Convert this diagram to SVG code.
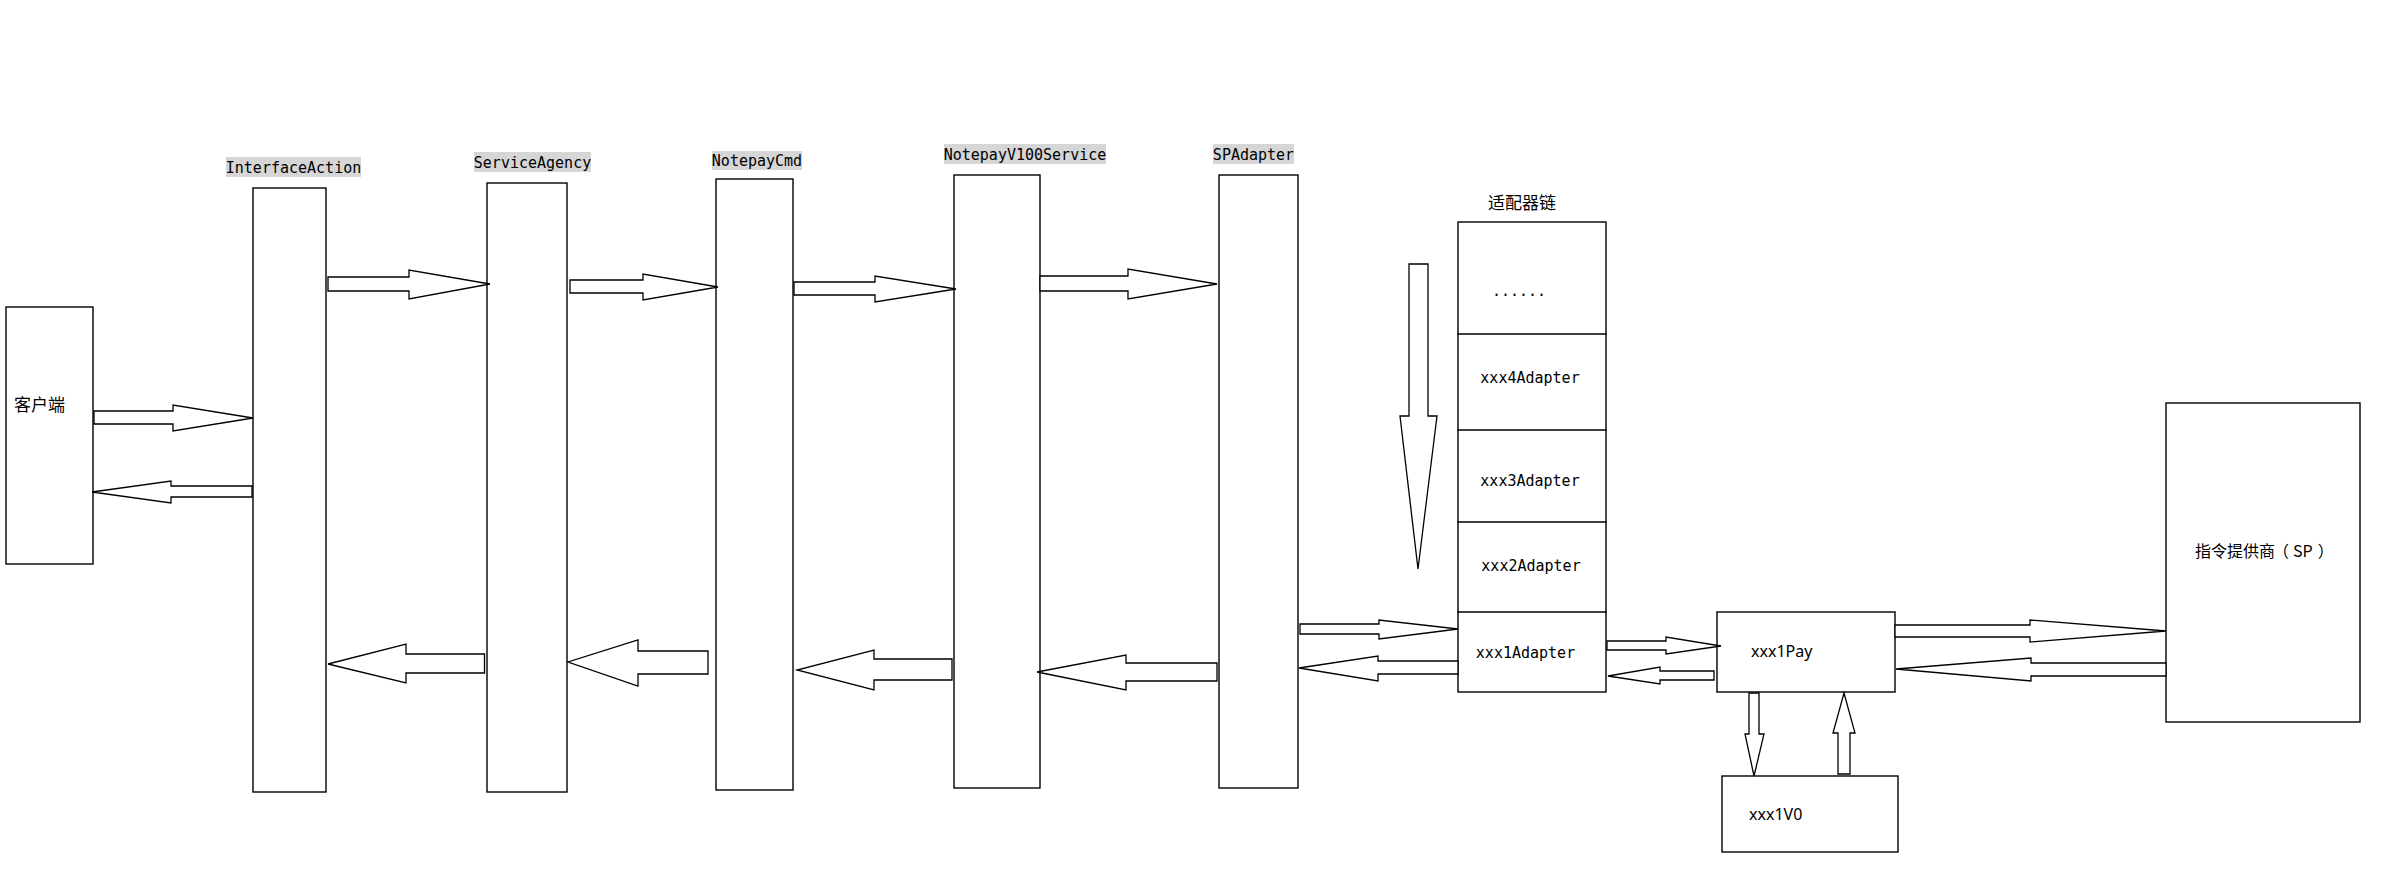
<svg xmlns="http://www.w3.org/2000/svg" width="2392" height="888" viewBox="0 0 2392 888">
<style>
.box{fill:#fff;stroke:#000;stroke-width:1.4}
.div{stroke:#000;stroke-width:1.4;fill:none}
.arr{fill:#fff;stroke:#000;stroke-width:1.3;stroke-linejoin:miter}
.mono{font-family:"DejaVu Sans Mono","Liberation Mono",monospace;font-size:15px;fill:#000}
.sans{font-family:"Noto Sans","Noto Sans CJK SC",sans-serif;font-size:16px;fill:#000}
.cjk{font-family:"Noto Sans CJK SC","Noto Sans",sans-serif;font-size:17px;fill:#000}
.lblbg{fill:#d6d6d6}
</style>
<rect width="2392" height="888" fill="#fff"/>

<g id="client">
<rect class="box" x="6" y="307" width="87" height="257"/>
<text class="cjk" x="14" y="411">客户端</text>
</g>

<g id="interfaceAction">
<rect class="lblbg" x="226" y="157" width="135" height="20"/>
<text class="mono" x="293.5" y="173" text-anchor="middle">InterfaceAction</text>
<rect class="box" x="253" y="188" width="73" height="604"/>
</g>

<g id="serviceAgency">
<rect class="lblbg" x="474" y="152" width="117" height="20"/>
<text class="mono" x="532.5" y="168" text-anchor="middle">ServiceAgency</text>
<rect class="box" x="487" y="183" width="80" height="609"/>
</g>

<g id="notepayCmd">
<rect class="lblbg" x="712" y="151" width="90" height="19"/>
<text class="mono" x="757" y="166" text-anchor="middle">NotepayCmd</text>
<rect class="box" x="716" y="179" width="77" height="611"/>
</g>

<g id="notepayV100Service">
<rect class="lblbg" x="944" y="144" width="162" height="20"/>
<text class="mono" x="1025" y="160" text-anchor="middle">NotepayV100Service</text>
<rect class="box" x="954" y="175" width="86" height="613"/>
</g>

<g id="spAdapter">
<rect class="lblbg" x="1213" y="144" width="81" height="20"/>
<text class="mono" x="1253.5" y="160" text-anchor="middle">SPAdapter</text>
<rect class="box" x="1219" y="175" width="79" height="613"/>
</g>

<g id="adapterChain">
<text class="cjk" x="1522" y="209" text-anchor="middle">适配器链</text>
<rect class="box" x="1458" y="222" width="148" height="470"/>
<line class="div" x1="1457" y1="334" x2="1607" y2="334"/>
<line class="div" x1="1457" y1="430" x2="1607" y2="430"/>
<line class="div" x1="1457" y1="522" x2="1607" y2="522"/>
<line class="div" x1="1457" y1="612" x2="1607" y2="612"/>
<text class="mono" x="1519" y="296" text-anchor="middle">......</text>
<text class="mono" x="1530" y="383" text-anchor="middle">xxx4Adapter</text>
<text class="mono" x="1530" y="486" text-anchor="middle">xxx3Adapter</text>
<text class="mono" x="1531" y="571" text-anchor="middle">xxx2Adapter</text>
<text class="mono" x="1525.5" y="658" text-anchor="middle">xxx1Adapter</text>
</g>

<g id="xxx1Pay">
<rect class="box" x="1717" y="612" width="178" height="80"/>
<text class="sans" x="1751" y="657">xxx1Pay</text>
</g>

<g id="xxx1VO">
<rect class="box" x="1722" y="776" width="176" height="76"/>
<text class="sans" x="1749" y="820">xxx1V0</text>
</g>

<g id="sp">
<rect class="box" x="2166" y="403" width="194" height="319"/>
<text x="2195" y="557" style="font-family:'Noto Sans CJK SC','Noto Sans',sans-serif;font-size:16px;fill:#000">指令提供商<tspan dx="-2">（</tspan><tspan dx="4">SP</tspan><tspan dx="5">）</tspan></text>
</g>

<g id="connectors">
<!-- client -> InterfaceAction -->
<polygon class="arr" points="94,411 173,411 173,405 253,418 173,431 173,424 94,424"/>
<!-- InterfaceAction -> client -->
<polygon class="arr" points="252,486 171,486 171,481 92,492 171,503 171,497 252,497"/>
<!-- IA -> SA -->
<polygon class="arr" points="328,277 409,277 409,270 490,284 409,299 409,291 328,291"/>
<!-- SA -> IA -->
<polygon class="arr" points="484.5,654 406,654 406,644 328,664 406,683 406,673 484.5,673"/>
<!-- SA -> NC -->
<polygon class="arr" points="570,280 643,280 643,274 718,287 643,300 643,293 570,293"/>
<!-- NC -> SA -->
<polygon class="arr" points="708,651 638,651 638,640 568,662 638,686 638,674 708,674"/>
<!-- NC -> NV -->
<polygon class="arr" points="794,282 875,282 875,276 956,289 875,302 875,295 794,295"/>
<!-- NV -> NC -->
<polygon class="arr" points="952,659 874,659 874,650 797,670 874,690 874,680 952,680"/>
<!-- NV -> SPA -->
<polygon class="arr" points="1040,276 1128,276 1128,269 1217,284 1128,299 1128,291 1040,291"/>
<!-- SPA -> NV -->
<polygon class="arr" points="1217,663 1126,663 1126,655 1037,672 1126,690 1126,681 1217,681"/>
<!-- SPA -> xxx1Adapter -->
<polygon class="arr" points="1300,624 1379,624 1379,620 1458,629 1379,639 1379,634 1300,634"/>
<!-- xxx1Adapter -> SPA -->
<polygon class="arr" points="1458,661 1378,661 1378,656 1299,668 1378,681 1378,674 1458,674"/>
<!-- xxx1Adapter -> xxx1Pay -->
<polygon class="arr" points="1607,641 1666,641 1666,637 1721,646 1666,654 1666,650 1607,650"/>
<!-- xxx1Pay -> xxx1Adapter -->
<polygon class="arr" points="1714,671 1660,671 1660,667 1608,676 1660,684 1660,680 1714,680"/>
<!-- xxx1Pay -> SP -->
<polygon class="arr" points="1895,625 2030,625 2030,620 2166,631 2030,642 2030,637 1895,637"/>
<!-- SP -> xxx1Pay -->
<polygon class="arr" points="2166,663 2031,663 2031,658 1896,669 2031,681 2031,676 2166,676"/>
<!-- chain order (down) -->
<polygon class="arr" points="1409,264 1428,264 1428,416 1437,416 1418,569 1400,416 1409,416"/>
<!-- xxx1Pay -> xxx1VO -->
<polygon class="arr" points="1749,693 1759,693 1759,734 1764,734 1754,776 1745,734 1749,734"/>
<!-- xxx1VO -> xxx1Pay -->
<polygon class="arr" points="1838,774 1850,774 1850,733 1855,733 1844,693 1833,733 1838,733"/>
</g>
</svg>
